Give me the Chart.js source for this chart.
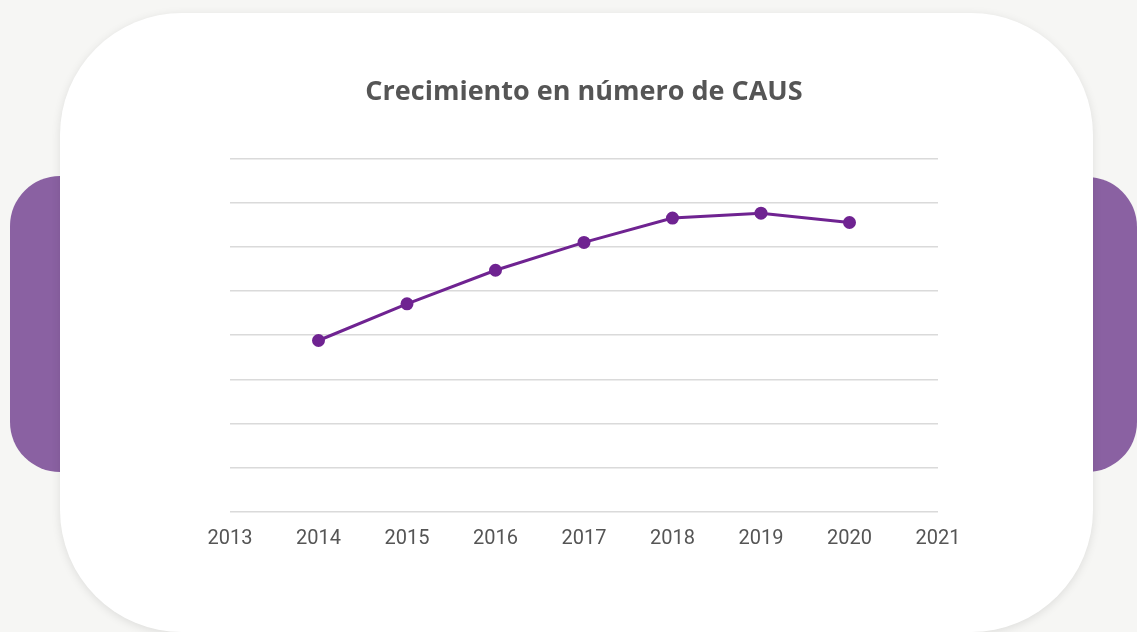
<!DOCTYPE html>
<html>
<head>
<meta charset="utf-8">
<script src="https://cdn.jsdelivr.net/npm/chart.js@4"></script>
<style>
  html, body { margin:0; padding:0; }
  body { width:1137px; height:632px; background:#f6f6f4; position:relative; overflow:hidden; }
  .tab { position:absolute; background:#8a61a2; border-radius:50px; }
  .tab.left { left:10px; top:176px; width:160px; height:296px; }
  .tab.right { left:980px; top:177px; width:157px; height:295px; }
  .card { position:absolute; left:60px; top:13px; width:1033px; height:619px; background:#fff;
          border-radius:122px; box-shadow:0 2px 10px rgba(0,0,0,0.10); }
  .card canvas { position:absolute; left:0; top:0; }
</style>
</head>
<body>
<div class="tab left"></div>
<div class="tab right"></div>
<div class="card">
  <canvas id="causChart" width="1033" height="619"></canvas>
</div>
<script>
// ---------- Data ----------

const titleText = "Crecimiento en número de CAUS";

const years = [2014, 2015, 2016, 2017, 2018, 2019, 2020];

const causValues = [38.8, 47.1, 54.7, 61.0, 66.5, 67.6, 65.5];

const xRange = [2013, 2021];

const yRange = [0, 80];

// ---------- Chart ----------

const points = years.map((y, i) => ({ x: y, y: causValues[i] }));

new Chart(document.getElementById("causChart"), {

    type: "line",

    data: {
        datasets: [{
            data: points,
            borderColor: "#6f2391",
            backgroundColor: "#6f2391",
            borderWidth: 3,
            pointRadius: 5,
            pointHoverRadius: 5,
            tension: 0,
            fill: false
        }]
    },

    options: {
        responsive: false,
        animation: false,
        layout: {
            padding: { left: 170, right: 155, top: 63, bottom: 66 }
        },
        plugins: {
            legend: { display: false },
            tooltip: { enabled: false },
            title: {
                display: true,
                text: titleText,
                color: "#555555",
                font: { family: "Open Sans", size: 27, weight: "bold", lineHeight: 1.2 },
                padding: { top: 0, bottom: 50 }
            }
        },
        scales: {
            x: {
                type: "linear",
                min: xRange[0],
                max: xRange[1],
                grid: { display: false, drawTicks: false },
                border: { display: false },
                ticks: {
                    stepSize: 1,
                    padding: 15,
                    color: "#555555",
                    font: { family: "Roboto", size: 20 },
                    callback: v => String(v)
                }
            },
            y: {
                min: yRange[0],
                max: yRange[1],
                grid: { color: "#dadada", lineWidth: 1.5, drawTicks: false },
                border: { display: false },
                ticks: { display: false, stepSize: 10 }
            }
        }
    }
});
</script>
</body>
</html>
